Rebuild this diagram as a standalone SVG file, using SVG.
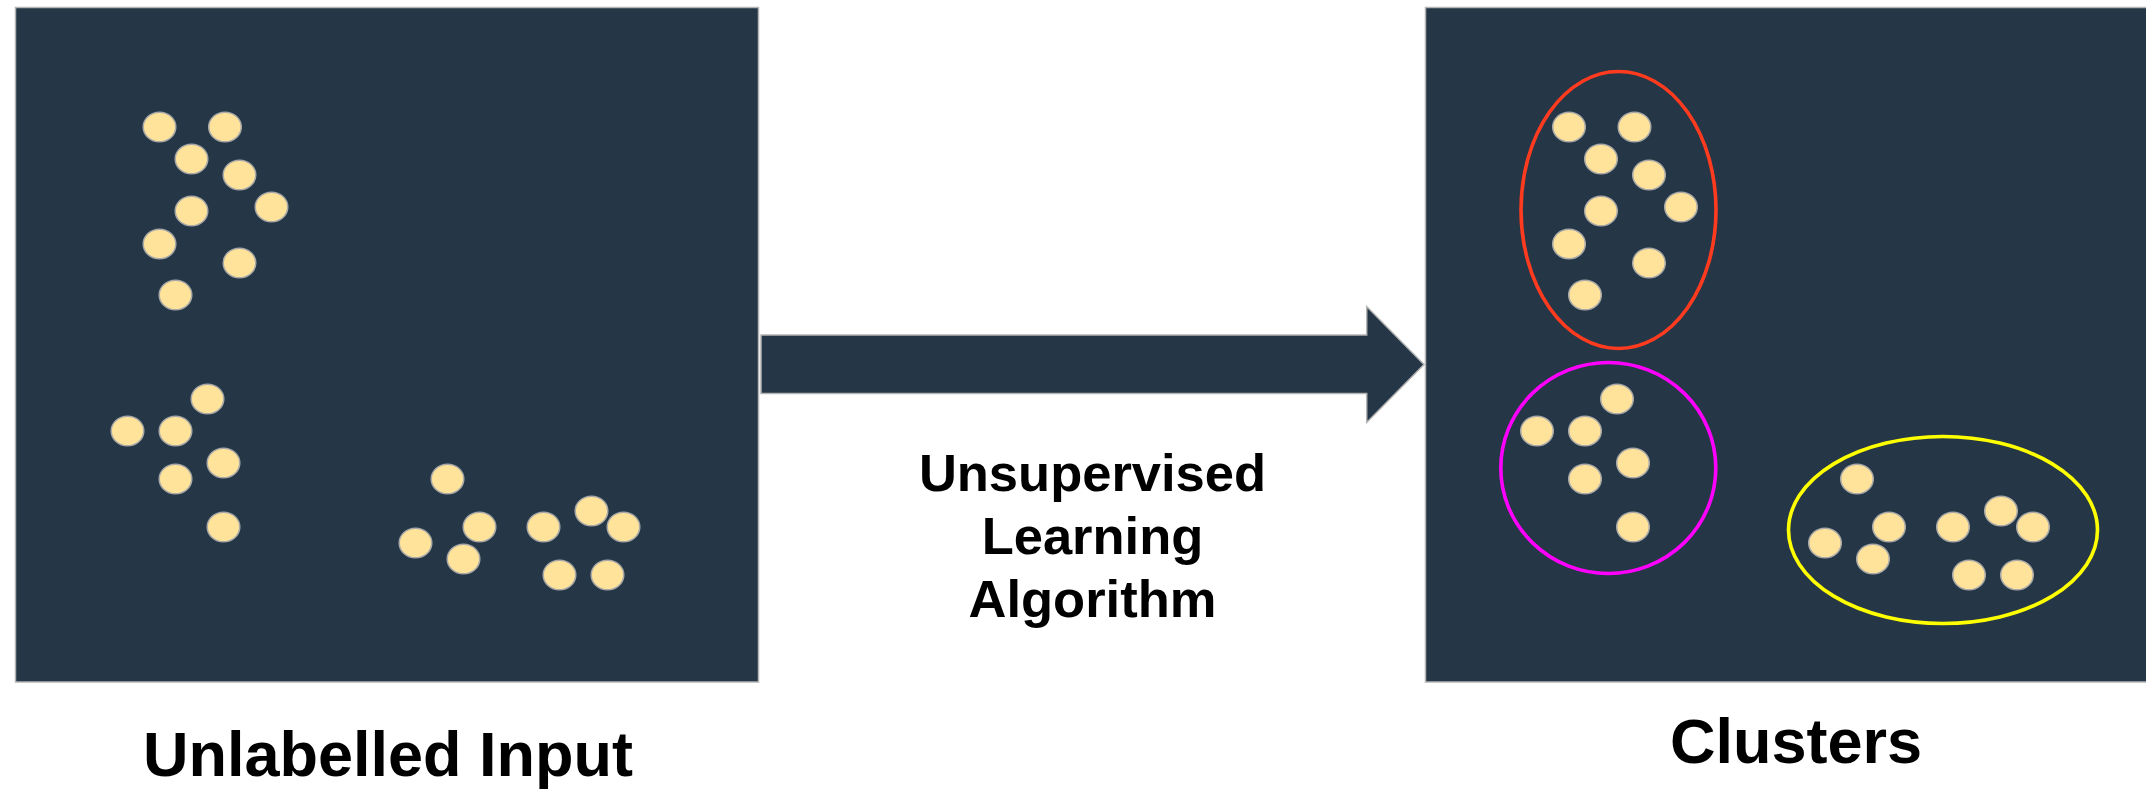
<svg xmlns="http://www.w3.org/2000/svg" xmlns:xlink="http://www.w3.org/1999/xlink" width="2146" height="790" viewBox="0 0 2146 790">
  <style>
    .panel { fill: #253746; stroke: #b4b4b4; stroke-width: 1.5; }
    .pt { fill: #ffe39b; stroke: #a8a8a8; stroke-width: 1.5; }
    .ring { fill: none; stroke-width: 3.6; }
    .label { font-family: "Liberation Sans", Arial, sans-serif; font-weight: bold; fill: #000; text-anchor: middle; }
    .arrow { fill: #253746; stroke: #b4b4b4; stroke-width: 1.5; stroke-linejoin: miter; }
  </style>
  <defs>
    <ellipse id="pt" class="pt" cx="0" cy="0" rx="16.3" ry="14.8"/>
    <!-- three groups of points, drawn in panel coordinates -->
    <g id="groupA">
      <use xlink:href="#pt" x="159.5" y="127"/>
      <use xlink:href="#pt" x="225" y="127"/>
      <use xlink:href="#pt" x="191.5" y="159"/>
      <use xlink:href="#pt" x="239.5" y="175"/>
      <use xlink:href="#pt" x="191.5" y="211"/>
      <use xlink:href="#pt" x="271.5" y="207"/>
      <use xlink:href="#pt" x="159.5" y="244"/>
      <use xlink:href="#pt" x="239.5" y="263"/>
      <use xlink:href="#pt" x="175.5" y="295"/>
    </g>
    <g id="groupB">
      <use xlink:href="#pt" x="207.5" y="399"/>
      <use xlink:href="#pt" x="127.5" y="431"/>
      <use xlink:href="#pt" x="175.5" y="431"/>
      <use xlink:href="#pt" x="223.5" y="463"/>
      <use xlink:href="#pt" x="175.5" y="479"/>
      <use xlink:href="#pt" x="223.5" y="527"/>
    </g>
    <g id="groupC">
      <use xlink:href="#pt" x="447.5" y="479"/>
      <use xlink:href="#pt" x="415.5" y="543"/>
      <use xlink:href="#pt" x="479.5" y="527"/>
      <use xlink:href="#pt" x="463.5" y="559"/>
      <use xlink:href="#pt" x="543.5" y="527"/>
      <use xlink:href="#pt" x="591.5" y="511"/>
      <use xlink:href="#pt" x="623.5" y="527"/>
      <use xlink:href="#pt" x="559.5" y="575"/>
      <use xlink:href="#pt" x="607.5" y="575"/>
    </g>
  </defs>

  <rect width="2146" height="790" fill="#ffffff"/>

  <!-- input panel: unlabelled points -->
  <g id="input-panel">
    <rect class="panel" x="15.5" y="7.5" width="743" height="674.5"/>
    <use xlink:href="#groupA"/>
    <use xlink:href="#groupB"/>
    <use xlink:href="#groupC"/>
  </g>

  <!-- output panel: same points, grouped -->
  <g id="clusters-panel">
    <rect class="panel" x="1425.5" y="7.5" width="730" height="674.5"/>
    <g transform="translate(1409.5 0)">
      <use xlink:href="#groupA"/>
      <use xlink:href="#groupB"/>
      <use xlink:href="#groupC"/>
    </g>
    <ellipse id="cluster-red" class="ring" stroke="#ff3b1f" cx="1618.5" cy="210" rx="97.5" ry="138.5"/>
    <ellipse id="cluster-magenta" class="ring" stroke="#ff00ff" cx="1608.3" cy="468" rx="107.5" ry="105.5"/>
    <ellipse id="cluster-yellow" class="ring" stroke="#ffff00" cx="1943" cy="530" rx="154.5" ry="93.5"/>
  </g>

  <!-- block arrow between the panels -->
  <g id="connectors">
    <polygon class="arrow" points="761,335 1366.7,335 1366.7,306.5 1424,364.5 1366.7,422.5 1366.7,393.5 761,393.5"/>
  </g>

  <g id="algorithm-label">
    <text class="label" font-size="52.5" x="1092.5" y="491">Unsupervised</text>
    <text class="label" font-size="52.5" x="1092.5" y="554">Learning</text>
    <text class="label" font-size="52.5" x="1092.5" y="617">Algorithm</text>
  </g>

  <g id="input-label">
    <text class="label" font-size="63" x="388" y="776">Unlabelled Input</text>
  </g>

  <g id="clusters-label">
    <text class="label" font-size="63" x="1796" y="763">Clusters</text>
  </g>
</svg>
